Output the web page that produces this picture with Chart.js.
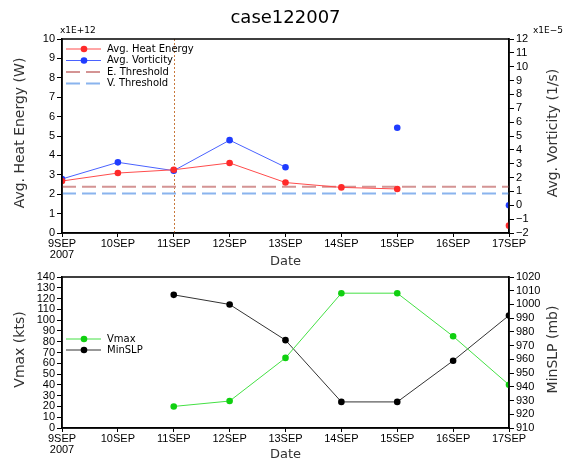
<!DOCTYPE html>
<html>
<head>
<meta charset="utf-8">
<script src="https://cdn.jsdelivr.net/npm/chart.js@4.4.0/dist/chart.umd.min.js"></script>
<style>
    html, body { margin: 0; padding: 0; background: #fff; }
    #wrap { position: relative; width: 570px; height: 462px; }
    #topChart { position: absolute; left: 0; top: 0; }
    #botChart { position: absolute; left: 0; top: 262px; }
</style>
</head>
<body>
<div id="wrap">
    <canvas id="topChart" width="570" height="272"></canvas>
    <canvas id="botChart" width="570" height="200"></canvas>
</div>
<script>
// Chart data
const dates = ['9SEP', '10SEP', '11SEP', '12SEP', '13SEP', '14SEP', '15SEP', '16SEP', '17SEP'];
const year = '2007';
const markDate = '11SEP';

// top panel: heat energy (x1E+12 W), vorticity (x1E-5 1/s)
const heatEnergy = [2.68, 3.09, 3.26, 3.61, 2.6, 2.35, 2.27, null, 0.38];
const vorticity = [1.9, 3.1, 2.5, 4.7, 2.75, null, 5.6, null, 0];
const eThreshold = 2.38;
const vThreshold = 0.85;

// bottom panel: Vmax (kts), MinSLP (mb)
const vmax = [null, null, 20, 25, 65, 125, 125, 85, 40];
const minSLP = [null, null, 1007, 1000, 974, 929, 929, 959, 992];

const xLabels = dates.map((d, i) => i === 0 ? [d, year] : d);
const tickFont = { family: 'Liberation Sans', size: 11, lineHeight: 1.05 };
const minus = v => v < 0 ? '\u2212' + (-v) : '' + v;

// Fix plot area edges so both panels line up
function fixWidth(w) { return s => { s.width = w; }; }
function fixHeight(h) { return s => { s.height = h; }; }

function rotText(ctx, text, x, y) {
    ctx.save();
    ctx.translate(x, y);
    ctx.rotate(-Math.PI / 2);
    ctx.textAlign = 'center';
    ctx.fillText(text, 0, 0);
    ctx.restore();
}

const decor = {
    id: 'decor',
    beforeDatasetsDraw(chart, args, o) {
        if (!o.mark) return;
        const { ctx, chartArea: a, scales: { x } } = chart;
        const px = Math.round(x.getPixelForValue(dates.indexOf(o.mark))) + 0.5;
        ctx.save();
        ctx.strokeStyle = '#c8783c';
        ctx.lineWidth = 1;
        ctx.setLineDash([2, 2]);
        ctx.beginPath();
        ctx.moveTo(px, a.top);
        ctx.lineTo(px, a.bottom);
        ctx.stroke();
        ctx.restore();
    },
    afterDraw(chart, args, o) {
        const { ctx, chartArea: a } = chart;
        ctx.save();
        ctx.strokeStyle = '#000';
        ctx.lineWidth = 1.5;
        ctx.strokeRect(a.left, a.top, a.right - a.left, a.bottom - a.top);

        ctx.fillStyle = '#000';
        ctx.textBaseline = 'middle';
        const midX = (a.left + a.right) / 2;
        const midY = (a.top + a.bottom) / 2 - 3;
        if (o.title) {
            ctx.font = '18px "DejaVu Sans"';
            ctx.textAlign = 'center';
            ctx.fillText(o.title, midX, o.titleY);
        }
        ctx.font = '14px "DejaVu Sans"';
        ctx.fillStyle = '#333';
        rotText(ctx, o.leftTitle, 20, midY);
        rotText(ctx, o.rightTitle, 553, midY);
        ctx.font = '13px "DejaVu Sans"';
        ctx.textAlign = 'center';
        ctx.fillText('Date', midX, o.dateY);

        ctx.fillStyle = '#000';
        ctx.font = '9px "DejaVu Sans"';
        ctx.textAlign = 'left';
        if (o.leftExp) ctx.fillText(o.leftExp, a.left - 2, a.top - 8);
        if (o.rightExp) ctx.fillText(o.rightExp, a.right + 24, a.top - 8);

        // legend inside the plot
        const lg = o.legend;
        chart.data.datasets.forEach((ds, i) => {
            const y = lg.y + i * lg.dy;
            ctx.strokeStyle = ds.borderColor;
            ctx.lineWidth = ds.borderWidth;
            ctx.setLineDash(ds.borderDash || []);
            ctx.beginPath();
            ctx.moveTo(lg.x, y);
            ctx.lineTo(lg.x + 35, y);
            ctx.stroke();
            ctx.setLineDash([]);
            if (ds.pointRadius > 0) {
                ctx.fillStyle = ds.pointBackgroundColor;
                ctx.beginPath();
                ctx.arc(lg.x + 18, y, ds.pointRadius, 0, Math.PI * 2);
                ctx.fill();
            }
            ctx.fillStyle = '#000';
            ctx.font = '10px "DejaVu Sans"';
            ctx.fillText(ds.label, lg.x + 41, y);
        });
        ctx.restore();
    }
};

function lineSet(label, data, axis, line, dot) {
    return {
        label: label,
        data: data,
        yAxisID: axis,
        borderColor: line,
        borderWidth: 1,
        pointRadius: 3.3,
        pointHoverRadius: 3.3,
        pointBackgroundColor: dot,
        pointBorderWidth: 0,
        spanGaps: false,
        clip: 0,
        tension: 0
    };
}

function thresholdSet(label, value, axis, color) {
    return {
        label: label,
        data: dates.map(() => value),
        yAxisID: axis,
        borderColor: color,
        borderWidth: 2,
        borderDash: [14, 6],
        pointRadius: 0,
        clip: 0
    };
}

function axis(pos, min, max, step, width, cb) {
    return {
        position: pos,
        min: min,
        max: max,
        afterFit: fixWidth(width),
        grid: { drawOnChartArea: false, color: '#000', tickLength: 5 },
        border: { color: '#000', width: 1.5 },
        ticks: { stepSize: step, color: '#000', font: tickFont, padding: 2, autoSkip: false, callback: cb || (v => v) }
    };
}

function xAxis(height) {
    return {
        afterFit: fixHeight(height),
        grid: { drawOnChartArea: false, color: '#000', tickLength: 4 },
        border: { color: '#000', width: 1.5 },
        ticks: { color: '#000', font: tickFont, padding: 1, maxRotation: 0, autoSkip: false }
    };
}

const common = {
    responsive: false,
    animation: false,
    events: [],
    plugins: { legend: { display: false }, tooltip: { enabled: false } }
};

new Chart(document.getElementById('topChart'), {
    type: 'line',
    data: {
        labels: xLabels,
        datasets: [
            lineSet('Avg. Heat Energy', heatEnergy, 'y', '#ff4c4c', '#ff2a2a'),
            lineSet('Avg. Vorticity', vorticity, 'y1', '#4a62ff', '#1f3cff'),
            thresholdSet('E. Threshold', eThreshold, 'y', '#d49494'),
            thresholdSet('V. Threshold', vThreshold, 'y1', '#8ab4ee')
        ]
    },
    options: {
        ...common,
        layout: { padding: { top: 39, bottom: 0, left: 0, right: 0 } },
        scales: {
            x: xAxis(39),
            y: axis('left', 0, 10, 1, 62),
            y1: axis('right', -2, 12, 1, 61, minus)
        },
        plugins: {
            ...common.plugins,
            decor: {
                title: 'case122007', titleY: 18,
                leftTitle: 'Avg. Heat Energy (W)', rightTitle: 'Avg. Vorticity (1/s)',
                leftExp: 'x1E+12', rightExp: 'x1E\u22125',
                dateY: 262,
                mark: markDate,
                legend: { x: 66, y: 49, dy: 11.5 }
            }
        }
    },
    plugins: [decor]
});

new Chart(document.getElementById('botChart'), {
    type: 'line',
    data: {
        labels: xLabels,
        datasets: [
            lineSet('Vmax', vmax, 'y', '#44e044', '#10d010'),
            lineSet('MinSLP', minSLP, 'y1', '#333', '#000')
        ]
    },
    options: {
        ...common,
        layout: { padding: { top: 15, bottom: 0, left: 0, right: 0 } },
        scales: {
            x: xAxis(34),
            y: axis('left', 0, 140, 10, 62),
            y1: axis('right', 910, 1020, 10, 61)
        },
        plugins: {
            ...common.plugins,
            decor: {
                leftTitle: 'Vmax (kts)', rightTitle: 'MinSLP (mb)',
                dateY: 193,
                legend: { x: 66, y: 77, dy: 11 }
            }
        }
    },
    plugins: [decor]
});
</script>
</body>
</html>
